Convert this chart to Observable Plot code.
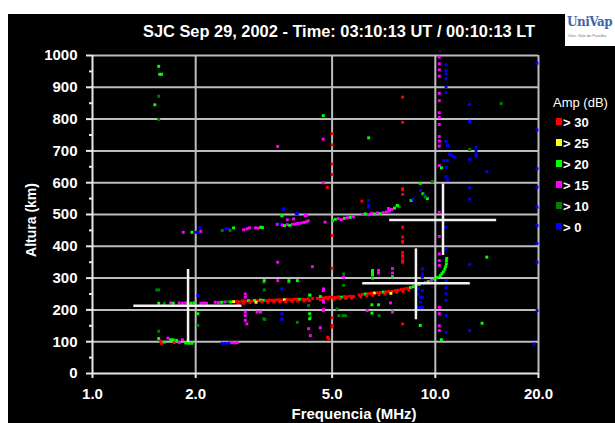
<!DOCTYPE html>
<html>
<head>
<meta charset="utf-8">
<script src="https://cdn.jsdelivr.net/npm/d3@7"></script>
<script src="https://cdn.jsdelivr.net/npm/@observablehq/plot@0.6"></script>
<style>
  html, body { margin: 0; padding: 0; background: #fff; width: 615px; height: 423px; overflow: hidden; position: relative; font-family: "Liberation Sans", Arial, sans-serif; }
  #bg { position: absolute; left: 8px; top: 14px; width: 607px; height: 409px; background: #000; }
  #chart { position: absolute; left: 0; top: 0; }
  .lbl { position: absolute; color: #fff; font-weight: bold; white-space: nowrap; }
  #title { left: 339px; top: 22px; font-size: 16.4px; transform: translateX(-50%); }
  #xlabel { left: 354px; top: 405px; font-size: 15px; transform: translateX(-50%); }
  #ylabel { left: 31px; top: 220px; font-size: 14px; transform: translate(-50%, -50%) rotate(-90deg); }
  #legend { position: absolute; left: 553px; top: 95px; color: #fff; font-size: 13px; }
  #legend .head { height: 17px; }
  #legend .item { position: relative; height: 21px; line-height: 21px; padding-left: 10px; font-weight: bold; }
  #legend .sw { position: absolute; left: 3px; top: 6px; width: 6px; height: 7px; }
  #logo { position: absolute; left: 565px; top: 12px; width: 50px; height: 34px; background: #fff; overflow: hidden; }
  #logo .u { position: absolute; left: 2px; top: 3px; font-family: "DejaVu Serif", serif; font-weight: bold; font-size: 12px; color: #4563a8; letter-spacing: -0.5px; }
  #logo .s { position: absolute; left: 3px; top: 22px; font-size: 4px; color: #777; line-height: 4px; width: 44px; }
</style>
</head>
<body>
<div id="bg"></div>
<div id="chart"></div>
<div id="title" class="lbl">SJC Sep 29, 2002 - Time: 03:10:13 UT / 00:10:13 LT</div>
<div id="xlabel" class="lbl">Frequencia (MHz)</div>
<div id="ylabel" class="lbl">Altura (km)</div>
<div id="legend"></div>
<div id="logo"><span class="u">UniVap</span><span class="s">Univ. Vale do Paraíba</span></div>
<script>
// ---- scales / ticks ----
const freqTicks = [1, 2, 5, 10, 20];
const freqTickLabels = ["1.0", "2.0", "5.0", "10.0", "20.0"];
const heightTicks = [0, 100, 200, 300, 400, 500, 600, 700, 800, 900, 1000];
const heightTickLabels = ["0", "100", "200", "300", "400", "500", "600", "700", "800", "900", "1000"];
const heightMinorTicks = [50, 150, 250, 350, 450, 550, 650, 750, 850, 950];
const heightGrid = [100, 200, 300, 400, 500, 600, 700, 800, 900, 1000];
const freqGrid = [2, 5, 10, 20];

// ---- amplitude classes ----
const ampLevels = [30, 25, 20, 15, 10, 0];
const ampLabels = ["> 30", "> 25", "> 20", "> 15", "> 10", "> 0"];
const ampColors = ["#ff0000", "#ffff00", "#00ff00", "#ff00ff", "#008000", "#0000ff"];

// ---- echoes: [frequency MHz, virtual height km, amplitude class dB] ----
const traceE = [
  [1.56,110,20],[1.58,102,30],[1.59,95,30],[1.62,99,20],[1.66,111,15],[1.69,106,20],[1.72,106,20],
  [1.73,97,30],[1.76,104,20],[1.79,97,15],[1.83,106,15],[1.87,96,20],[1.91,95,20],[1.95,95,20],
  [2.39,95,0],[2.44,95,0],[2.50,96,0],[2.55,97,15],[2.60,96,15],[2.64,97,15],[1.56,133,10]
];
const traceF = [
  [1.56,221,20],[1.62,220,10],[1.69,222,15],[1.72,221,20],[1.79,222,15],[1.83,221,15],[1.87,222,15],
  [1.94,221,20],[1.98,222,20],[2.07,221,15],[2.11,222,15],[2.15,221,15],[2.28,224,15],[2.33,223,15],
  [2.38,224,20],[2.43,225,15],[2.48,226,10],[2.53,225,20],[2.58,226,25],[2.63,227,30],[2.68,226,30],
  [2.74,228,30],[2.79,227,30],[2.85,229,20],[2.91,228,30],[2.97,230,20],[3.03,229,30],[3.09,231,20],
  [3.15,230,20],[3.22,229,30],[3.28,231,30],[3.35,230,30],[3.42,231,30],[3.49,232,30],[3.56,231,30],
  [3.63,232,25],[3.70,233,30],[3.78,232,30],[3.86,233,30],[3.93,234,30],[4.01,233,20],[4.10,234,30],
  [4.18,233,30],[4.26,235,30],[4.38,236,30],[4.53,236,30],[4.72,238,30],[4.81,239,30],[4.91,240,30],
  [5.01,240,30],[5.11,239,30],[5.21,241,30],[5.32,240,20],[5.43,242,30],[5.54,241,30],[5.65,243,30],
  [5.77,242,30],[6.00,247,30],[6.13,249,30],[6.25,250,20],[6.38,251,30],[6.51,252,30],[6.64,253,25],
  [6.78,254,30],[6.91,255,30],[7.05,256,20],[7.20,257,30],[7.34,258,30],[7.49,259,30],[7.65,261,30],
  [7.80,262,30],[7.96,264,30],[8.12,266,30],[8.29,268,30],[8.46,270,20],[8.63,273,20],[8.80,277,15],
  [8.98,280,20],[9.17,283,20],[9.35,286,15],[9.54,289,20],[9.74,293,15],[9.93,297,20],[10.13,302,20],
  [10.34,308,20],[10.45,314,20],[10.55,320,20],[10.66,328,20],[10.72,336,20],[10.77,345,20],
  [10.77,355,20],[10.80,362,20]
];
const traceFLower = [
  [2.66,220,30],[2.76,221,30],[2.88,223,30],[3.00,224,25],[3.12,225,30],[3.25,224,30],[3.38,225,30],
  [3.52,226,30],[3.66,226,30],[3.82,227,30],[3.97,228,30],[4.14,228,30],[4.30,229,30],[4.62,232,30],
  [4.86,234,30],[5.06,234,30],[5.27,235,30],[5.48,236,30],[5.71,237,30],[6.06,241,30],[6.31,244,30],
  [6.58,246,30],[6.85,248,30],[7.12,250,30],[7.42,252,25],[7.72,255,30],[8.04,258,30],[8.37,262,30]
];
const traceF2 = [
  [1.84,444,15],[1.95,444,20],[2.00,444,0],[2.03,444,0],[2.07,447,15],[2.06,458,0],[2.39,450,10],
  [2.45,455,0],[2.49,455,0],[2.52,450,10],[2.58,458,20],[2.76,452,15],[2.82,455,15],[2.87,458,15],
  [2.99,458,15],[3.05,457,15],[3.10,460,20],[3.13,459,20],[3.46,469,15],[3.52,470,0],[3.58,467,15],
  [3.63,465,20],[3.70,468,15],[3.76,466,20],[3.83,469,15],[3.90,470,15],[3.97,472,15],[4.05,473,15],
  [4.13,475,15],[4.20,477,15],[4.26,480,15],[3.70,483,15],[3.61,516,0],[3.57,495,10],[3.93,502,0],
  [4.20,497,15],[4.77,476,15],[5.01,481,20],[5.11,485,20],[5.21,487,15],[5.32,484,15],[5.43,488,20],
  [5.54,490,15],[5.65,491,20],[5.77,493,15],[6.13,500,15],[6.25,502,20],[6.38,499,15],[6.51,504,15],
  [6.64,502,20],[6.78,505,15],[6.91,503,20],[7.05,506,15],[7.20,508,15],[7.34,511,15],[7.45,516,15],
  [7.60,520,20],[7.75,528,20],[7.85,525,10]
];
const scatter = [
  [1.56,966,20],[1.57,941,20],[1.59,941,20],[1.56,872,10],[1.52,845,20],[1.56,799,10],
  [4.71,811,20],[4.71,737,15],[3.47,714,15],[5.0,754,30],[5.0,719,30],[5.0,659,30],[5.0,626,30],
  [4.71,600,15],[4.84,585,30],[3.61,518,0],[5.0,434,30],[5.0,331,30],
  [10.27,995,15],[10.27,974,15],[10.27,955,15],[10.27,935,15],[10.27,881,15],[10.27,858,15],
  [10.27,820,15],[10.27,806,15],[10.27,783,15],[10.27,745,15],[10.27,731,15],[10.27,715,15],
  [10.27,654,15],[10.27,507,15],[10.27,431,15],[10.27,376,15],[10.27,355,15],[10.27,340,15],
  [10.27,208,15],[10.27,188,15],[10.27,150,15],[10.27,135,15],
  [10.75,971,0],[10.75,953,0],[10.75,942,0],[10.75,927,0],[10.75,902,0],[10.75,883,0],
  [12.59,846,0],[12.59,793,0],[10.75,730,0],[10.86,717,0],[11.0,690,0],[11.2,685,0],[11.4,680,0],
  [13.15,712,0],[13.15,700,0],[13.15,690,0],[13.15,682,0],[12.6,704,10],[10.58,670,0],[10.86,670,0],
  [10.75,647,0],[10.75,619,0],[10.86,609,0],[14.13,635,0],[10.42,647,20],
  [8.03,869,30],[8.03,790,30],[6.39,741,20],[15.57,849,10],
  [19.8,976,0],[19.8,766,0],[19.8,644,0],[19.8,586,0],[19.8,523,0],[19.8,465,0],[19.8,409,0],[19.8,350,0],[19.8,198,0],
  [9.04,598,20],[8.03,578,30],[8.03,563,30],[6.11,542,30],[6.39,544,0],[6.39,530,0],[6.39,523,0],
  [9.04,575,0],[9.2,565,20],[9.3,560,0],[9.48,550,20],[9.35,555,10],[8.5,544,20],[8.6,548,0],
  [7.74,528,20],[7.3,519,15],[9.8,604,10],
  [12.6,673,0],[12.6,584,0],[12.6,549,0],[12.6,343,0],[14.13,366,20],
  [10.75,460,0],[10.75,392,0],[10.75,292,0],[10.75,270,0],[10.75,250,0],[10.75,230,0],[10.75,182,0],[10.75,130,0],
  [9.04,224,0],[9.04,208,0],[9.04,240,0],
  [10.42,106,20],[9.04,151,20],[12.6,135,0],[13.69,158,20],[8.03,156,30],[19.4,93,0],
  [8.03,581,30],[8.03,460,30],[8.03,429,30],[8.03,413,30],[8.03,381,30],[8.03,366,30],[8.03,350,30],[8.03,415,30],
  [8.03,371,30],[8.03,355,30],
  [3.47,350,15],[4.38,336,15],[5.4,313,10],[5.4,303,15],[3.96,292,20],[3.74,287,10],[3.16,287,10],
  [6.56,324,20],[6.56,320,20],[6.56,316,20],[6.56,310,20],[6.56,300,20],[6.83,324,15],[6.83,316,15],
  [7.5,330,15],[7.5,316,15],[7.5,304,20],
  [9.17,329,0],[9.17,313,0],[9.17,303,0],[9.17,282,0],[9.17,261,0],[9.17,240,0],[9.17,208,0],
  [4.72,266,15],[4.62,242,20],[4.72,224,15],[4.32,245,10],[4.27,214,10],[4.72,201,15],[7.4,222,15],
  [6.53,216,20],[6.53,190,20],[6.83,216,20],[7.5,198,20],[7.5,193,15],[5.23,182,10],[5.38,182,10],
  [5.0,175,30],[5.0,151,30],[3.96,161,10],[4.62,144,15],[4.32,177,10],[3.57,266,0],[3.57,170,0],
  [3.18,170,10],[4.32,119,15],[4.89,109,30],[6.33,198,15],
  [3.96,502,0],[4.17,497,15],[3.86,486,15],[3.57,497,20],
  [3.17,292,20],[3.47,292,15],[3.74,292,20],[4.71,261,15],[3.17,263,10],[4.30,247,20],[1.54,263,10],
  [2.79,250,15],[2.79,240,15],[2.79,193,15],[2.79,182,15],[3.02,193,15],[3.16,172,10],[3.57,188,0],
  [3.57,172,0],[4.27,141,15],[4.71,230,15],[4.71,198,15],[4.30,188,20],[4.30,172,20],[5.0,146,30],
  [4.85,114,30],[2.03,188,20],[2.03,151,10],[2.03,245,0],[6.86,182,10],[5.17,203,10],[5.47,182,10],
  [5.4,277,10],[8.9,266,0],[8.9,250,0],[8.9,208,0],[3.09,193,15],[2.79,167,15],[2.82,156,15],
  [1.56,263,10]
];

const echoes = [...traceE, ...traceF, ...traceFLower, ...traceF2, ...scatter]
  .map(([f, h, a]) => ({f, h, a}));

// ---- scaled parameter crosshairs ----
const crossFreq = [1.90, 8.78, 10.53];
const crossHeight = [213, 284, 483];
const crossFmin = [1.32, 6.14, 7.36];
const crossFmax = [2.73, 12.65, 15.1];
const crossHmin = [98, 169, 371];
const crossHmax = [327, 392, 596];
const crosses = crossFreq.map((f, i) => ({
  f, h: crossHeight[i], f1: crossFmin[i], f2: crossFmax[i], h1: crossHmin[i], h2: crossHmax[i]
}));

const gridColor = "#bdbdbd";

const chart = Plot.plot({
  width: 615,
  height: 423,
  marginLeft: 92,
  marginRight: 77,
  marginTop: 55,
  marginBottom: 50,
  style: {background: "transparent", color: "#fff", fontFamily: "'Liberation Sans', Arial, sans-serif", fontSize: "15px", fontWeight: "bold"},
  x: {type: "log", domain: [1, 20]},
  y: {domain: [0, 1000]},
  color: {type: "ordinal", domain: ampLevels, range: ampColors},
  marks: [
    Plot.gridX(freqGrid, {stroke: gridColor, strokeOpacity: 1, strokeWidth: 2}),
    Plot.gridY(heightGrid, {stroke: gridColor, strokeOpacity: 1, strokeWidth: 2}),
    Plot.dot(echoes, {x: "f", y: "h", fill: "a", symbol: "square", r: 1.65}),
    Plot.ruleY(crosses, {y: "h", x1: "f1", x2: "f2", stroke: "#f2f2f2", strokeWidth: 2.5}),
    Plot.ruleX(crosses, {x: "f", y1: "h1", y2: "h2", stroke: "#f2f2f2", strokeWidth: 2.5}),
    Plot.ruleX([1], {stroke: "#e8e8e8", strokeWidth: 2}),
    Plot.ruleY([0], {stroke: "#e8e8e8", strokeWidth: 2}),
    Plot.axisX({ticks: freqTicks, tickFormat: d => freqTickLabels[freqTicks.indexOf(d)], tickSize: 5, tickPadding: 10, label: null, stroke: "#e8e8e8", strokeWidth: 2}),
    Plot.axisY({ticks: heightTicks, tickFormat: d => heightTickLabels[heightTicks.indexOf(d)], tickSize: 6, tickPadding: 9, label: null, stroke: "#e8e8e8", strokeWidth: 2}),
    Plot.axisY({ticks: heightMinorTicks, tickSize: 3, tickFormat: () => "", label: null, stroke: "#e8e8e8", strokeWidth: 2})
  ]
});
document.getElementById("chart").appendChild(chart);

// ---- legend ----
const lg = document.getElementById("legend");
const head = document.createElement("div");
head.className = "head";
head.textContent = "Amp (dB)";
lg.appendChild(head);
ampLevels.forEach((lv, i) => {
  const it = document.createElement("div");
  it.className = "item";
  const sw = document.createElement("span");
  sw.className = "sw";
  sw.style.background = ampColors[i];
  it.appendChild(sw);
  it.appendChild(document.createTextNode(ampLabels[i]));
  lg.appendChild(it);
});
</script>
</body>
</html>
